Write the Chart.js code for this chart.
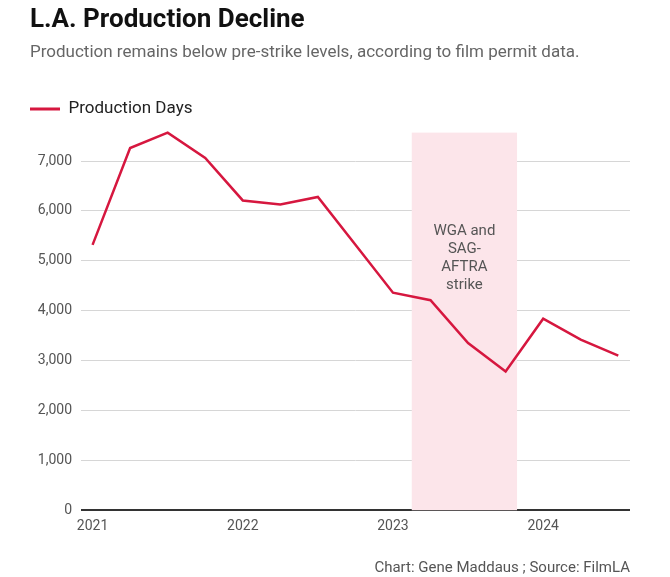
<!DOCTYPE html>
<html>
<head>
<meta charset="utf-8">
<script src="https://cdn.jsdelivr.net/npm/chart.js@4/dist/chart.umd.min.js"></script>
<style>
  body { margin: 0; background: #fff; font-family: Roboto, sans-serif; }
  #wrap { position: relative; width: 670px; height: 577px; }
  #footer { position: absolute; right: 40px; top: 558px; font-size: 15px; color: #555; }
</style>
</head>
<body>
<div id="wrap">
  <canvas id="myChart" width="670" height="577"></canvas>
  <div id="footer">Chart: Gene Maddaus ; Source: FilmLA</div>
</div>
<script>
"use strict";

// quarterly points, as fractional years
const quarters = [2021, 2021.25, 2021.5, 2021.75, 2022, 2022.25, 2022.5, 2022.75,
  2023, 2023.25, 2023.5, 2023.75, 2024, 2024.25, 2024.5];
const productionDays = [5320, 7260, 7570, 7060, 6210, 6130, 6280, 5320,
  4360, 4210, 3350, 2780, 3840, 3420, 3100];
const yearTicks = [2021, 2022, 2023, 2024];
const dayTicks = [0, 1000, 2000, 3000, 4000, 5000, 6000, 7000];
const strikePeriod = [2023.125, 2023.826];
const strikeLabel = ['WGA and', 'SAG-', 'AFTRA', 'strike'];

const lineColor = '#d6173f';
const textColor = '#555';

const strikeBand = {
  id: 'strikeBand',
  beforeDatasetsDraw(chart) {
    const {ctx, chartArea, scales: {x}} = chart;
    const x0 = x.getPixelForValue(strikePeriod[0]);
    const x1 = x.getPixelForValue(strikePeriod[1]);
    ctx.save();
    ctx.fillStyle = '#fce5ea';
    ctx.fillRect(x0, chartArea.top, x1 - x0, chartArea.bottom - chartArea.top);
    ctx.fillStyle = textColor;
    ctx.font = '15px Roboto, sans-serif';
    ctx.textAlign = 'center';
    ctx.textBaseline = 'middle';
    strikeLabel.forEach((line, i) => {
      ctx.fillText(line, (x0 + x1) / 2, 231.5 + i * 18);
    });
    ctx.restore();
  }
};

// a bit more room between legend and plot
const legendGap = {
  id: 'legendGap',
  beforeInit(chart) {
    const legend = chart.legend;
    const fit = legend.fit;
    legend.fit = function () {
      fit.call(this);
      this.height += 5;
    };
  }
};

const data = {
  datasets: [
    {
      label: 'Production Days',
      data: quarters.map((q, i) => ({x: q, y: productionDays[i]})),
      borderColor: lineColor,
      backgroundColor: lineColor,
      borderWidth: 2.5,
      pointRadius: 0,
      tension: 0,
      clip: false,
    }
  ]
};

const config = {
  type: 'line',
  data: data,
  plugins: [strikeBand, legendGap],
  options: {
    responsive: false,
    animation: false,
    layout: {
      padding: {left: 30, right: 40, top: 0, bottom: 34}
    },
    scales: {
      x: {
        type: 'linear',
        min: 2020.923,
        max: 2024.578,
        grid: {display: false, drawTicks: false},
        border: {display: false},
        afterBuildTicks: scale => {
          scale.ticks = yearTicks.map(v => ({value: v}));
        },
        ticks: {
          padding: 8,
          color: textColor,
          font: {family: 'Roboto', size: 14},
          maxRotation: 0,
          callback: v => String(v),
        }
      },
      y: {
        min: 0,
        max: Math.max(...productionDays),
        afterFit: scale => { scale.width = 51; },
        afterBuildTicks: scale => {
          scale.ticks = dayTicks.map(v => ({value: v}));
        },
        grid: {
          drawTicks: false,
          color: c => c.tick.value === 0 ? '#333' : '#d6d6d6',
          lineWidth: c => c.tick.value === 0 ? 2 : 1,
        },
        border: {display: false},
        ticks: {
          padding: 9,
          color: textColor,
          font: {family: 'Roboto', size: 14},
          callback: v => v.toLocaleString('en-US'),
        }
      }
    },
    plugins: {
      title: {
        display: true,
        text: 'L.A. Production Decline',
        align: 'start',
        color: '#111',
        font: {family: 'Roboto', size: 26, weight: 'bold'},
        padding: {top: 5, bottom: 0},
      },
      subtitle: {
        display: true,
        text: 'Production remains below pre-strike levels, according to film permit data.',
        align: 'start',
        color: '#666',
        font: {family: 'Roboto', size: 17},
        padding: {top: 6, bottom: 38},
      },
      legend: {
        position: 'top',
        align: 'start',
        labels: {
          boxWidth: 30,
          boxHeight: 3,
          padding: 0,
          color: '#222',
          font: {family: 'Roboto', size: 17},
          generateLabels: chart =>
            Chart.defaults.plugins.legend.labels.generateLabels(chart)
              .map(l => ({...l, lineWidth: 0})),
        }
      },
      tooltip: {enabled: false}
    }
  },
};

const myChart = new Chart(document.getElementById('myChart'), config);
</script>
</body>
</html>
